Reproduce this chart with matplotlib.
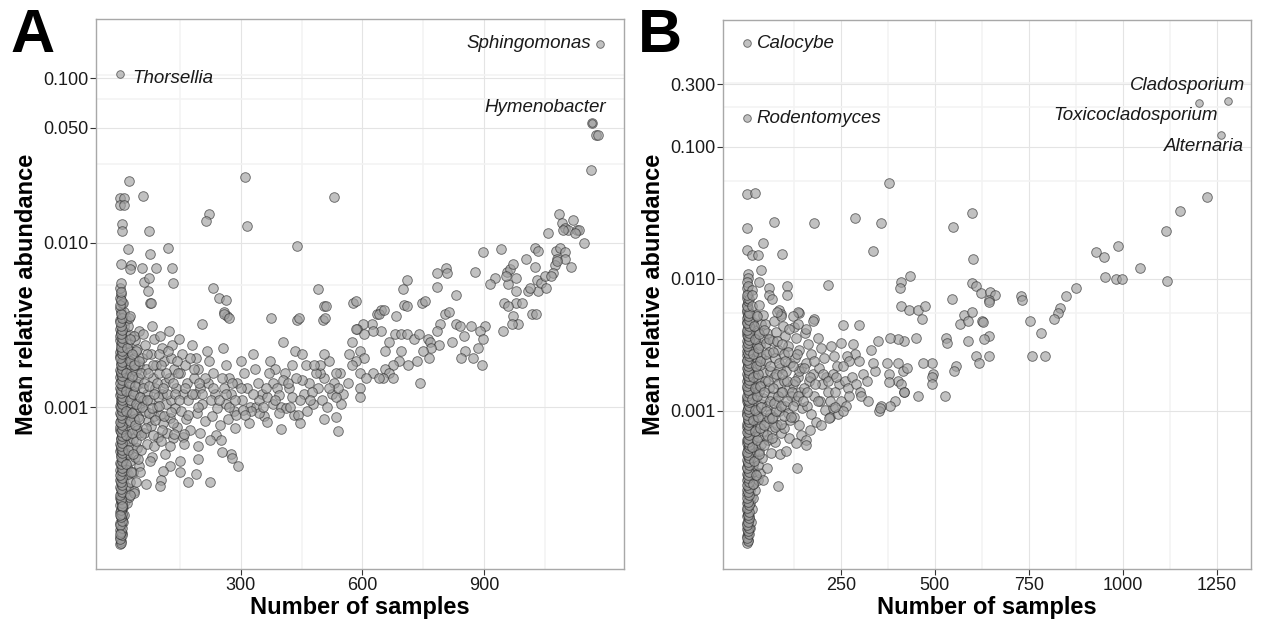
import numpy as np
import matplotlib
matplotlib.use('Agg')
import matplotlib.pyplot as plt
from matplotlib.ticker import FixedLocator, NullFormatter

plt.rcParams['font.family'] = ['Liberation Sans', 'DejaVu Sans']
plt.rcParams['axes.unicode_minus'] = False

# --------------------------
# Data: (number of samples, mean relative abundance) per taxon
# --------------------------
# Bacteria (panel A)
a_column = [(1,1.46e-4),(3,1.53e-4),(2,1.63e-4),(5,1.71e-4),(1,1.79e-4),(4,1.9e-4),(2,1.98e-4),(6,2.1e-4),
            (3,2.17e-4),(1,2.31e-4),(5,2.44e-4),(2,2.53e-4),(4,2.7e-4),(1,2.81e-4),(3,2.98e-4),(6,3.1e-4),
            (2,3.27e-4),(5,3.4e-4),(1,3.62e-4),(4,3.77e-4),(3,3.99e-4),(2,4.15e-4),(6,4.4e-4),(1,4.58e-4),
            (5,4.87e-4),(3,5.08e-4),(2,5.37e-4),(4,5.58e-4),(1,5.93e-4),(6,6.18e-4),(3,6.52e-4),(5,6.83e-4),
            (2,7.22e-4),(1,7.53e-4),(4,7.97e-4),(3,8.33e-4),(6,8.82e-4),(2,9.18e-4),(5,9.73e-4),(1,1.02e-3),
            (3,1.07e-3),(4,1.12e-3),(2,1.18e-3),(6,1.24e-3),(1,1.3e-3),(5,1.37e-3),(3,1.44e-3),(2,1.52e-3),
            (4,1.58e-3),(1,1.67e-3),(6,1.76e-3),(3,1.84e-3),(5,1.95e-3),(2,2.03e-3),(1,2.16e-3),(4,2.26e-3),
            (3,2.41e-3),(2,2.54e-3),(1,2.7e-3),(4,2.86e-3),(2,3.0e-3),(7,3.2e-3),(1,3.4e-3),(5,3.6e-3),
            (3,3.8e-3),(1,4.0e-3),(6,4.3e-3),(2,4.6e-3),(4,4.9e-3),(1,5.3e-3),(3,5.7e-3)]
a_column2 = [(9,2.0e-4),(12,2.2e-4),(8,2.45e-4),(14,2.7e-4),(10,3.0e-4),(13,3.3e-4),(9,3.6e-4),(15,3.95e-4),
             (11,4.3e-4),(8,4.7e-4),(14,5.1e-4),(10,5.5e-4),(13,6.0e-4),(9,6.5e-4),(16,7.0e-4),(11,7.6e-4),
             (8,8.2e-4),(14,8.9e-4),(10,9.6e-4),(12,1.04e-3),(9,1.12e-3),(15,1.2e-3),(11,1.3e-3),(8,1.4e-3),
             (13,1.5e-3),(10,1.62e-3),(16,1.75e-3),(12,1.9e-3),(9,2.05e-3),(14,2.2e-3),(11,2.4e-3),(8,2.6e-3),
             (13,2.85e-3),(10,3.1e-3),(15,3.4e-3),(12,3.8e-3),(9,4.3e-3),
             (19,2.6e-4),(24,2.85e-4),(20,3.2e-4),(27,3.5e-4),(22,3.9e-4),(18,4.3e-4),(26,4.7e-4),(21,5.2e-4),
             (29,5.7e-4),(23,6.2e-4),(19,6.8e-4),(27,7.4e-4),(22,8.1e-4),(25,8.9e-4),(20,9.7e-4),(28,1.06e-3),
             (23,1.16e-3),(18,1.27e-3),(26,1.39e-3),(21,1.52e-3),(29,1.66e-3),(24,1.82e-3),(19,2.0e-3),
             (27,2.2e-3),(22,2.45e-3),(25,2.75e-3),(20,3.1e-3),(23,3.5e-3),
             (36,3.1e-4),(42,3.5e-4),(33,4.0e-4),(47,4.4e-4),(38,5.0e-4),(44,5.6e-4),(34,6.4e-4),(49,7.0e-4),
             (40,7.8e-4),(46,8.7e-4),(35,9.5e-4),(43,1.05e-3),(50,1.15e-3),(37,1.25e-3),(45,1.38e-3),
             (32,1.5e-3),(41,1.65e-3),(48,1.8e-3),(36,2.0e-3),(44,2.25e-3),(39,2.55e-3),(47,2.9e-3)]
a_column3 = [(4,1.5e-4),(2,1.58e-4),(6,1.67e-4),(3,1.75e-4),(5,1.84e-4),(2,1.93e-4),(7,2.03e-4),(4,2.13e-4),
             (6,2.24e-4),(3,2.36e-4),(5,2.48e-4),(7,2.61e-4),(4,2.75e-4),(2,2.9e-4),(6,3.03e-4),(3,3.18e-4),
             (7,3.34e-4),(4,3.5e-4),(6,3.7e-4),(2,3.88e-4),(5,4.07e-4),(7,4.27e-4),(3,4.5e-4),(6,4.72e-4),
             (4,4.96e-4),(7,5.22e-4),(5,5.48e-4),(3,5.76e-4),(7,6.05e-4),(4,6.35e-4),(6,6.68e-4),(3,7.02e-4),
             (7,7.38e-4),(5,7.75e-4),(2,8.15e-4),(6,8.55e-4),(4,9.0e-4),(7,9.45e-4),(3,9.95e-4),(6,1.045e-3),
             (5,1.1e-3),(7,1.15e-3),(4,1.21e-3),(3,1.27e-3),(6,1.34e-3),(2,1.4e-3),(7,1.47e-3),(5,1.55e-3),
             (3,1.63e-3),(6,1.71e-3),(4,1.8e-3),(7,1.89e-3),(2,1.99e-3),(5,2.09e-3),(6,2.2e-3),(3,2.33e-3),
             (7,2.47e-3),(5,2.62e-3),(3,2.78e-3),(6,2.95e-3),(4,3.1e-3),(2,3.3e-3),(5,3.5e-3),(3,3.7e-3),
             (2,4.15e-3),(4,4.45e-3),(3,5.0e-3)]
a_cloud = [(35,0.0027),(42,0.0022),(38,0.0018),(45,0.0015),(33,0.0012),(48,0.0010),(36,0.00085),(44,0.00072),
           (40,0.00062),(52,0.00055),(58,0.0028),(62,0.0024),(55,0.0020),(66,0.0017),(60,0.0014),(68,0.0012),
           (57,0.0011),(64,0.00095),(70,0.00082),(61,0.0007),(67,0.0006),(80,0.0031),(85,0.0026),(78,0.0021),
           (90,0.0018),(83,0.0015),(88,0.0013),(76,0.0011),(92,0.001),(85,0.00088),(79,0.00077),(94,0.00066),
           (86,0.00058),(100,0.0027),(105,0.0023),(110,0.0019),(98,0.0016),(112,0.0014),(104,0.0012),
           (115,0.00105),(101,0.0009),(108,0.0008),(118,0.0007),(102,0.00062),(113,0.00052),(122,0.0029),
           (130,0.0024),(126,0.0020),(135,0.0017),(123,0.0015),(140,0.0013),(128,0.0011),(137,0.00098),
           (124,0.00086),(142,0.00076),(131,0.00065),(148,0.0026),(155,0.0021),(162,0.0018),(150,0.0016),
           (167,0.0014),(157,0.0012),(170,0.0011),(152,0.00095),(165,0.00084),(175,0.00073),(158,0.00066),
           (180,0.0024),(188,0.0020),(195,0.0017),(183,0.0015),(200,0.0013),(186,0.0012),(205,0.00105),
           (192,0.00092),(210,0.00082),(198,0.0007),(215,0.0022),(222,0.0019),(230,0.0016),(218,0.0014),
           (236,0.0012),(225,0.0011),(242,0.00098),(228,0.00088),(248,0.00078),(238,0.00068),(255,0.0023),
           (262,0.0018),(270,0.0015),(258,0.0013),(276,0.0012),(264,0.00105),(282,0.00095),(268,0.00085),
           (288,0.0009),(290,0.0014),(300,0.0019),(308,0.0016),(315,0.0013),(302,0.0011),(322,0.001),
           (335,0.0017),(342,0.0014),(352,0.0012),(338,0.001),(358,0.00088),(330,0.0021),(372,0.0019),
           (380,0.0014),(390,0.0013),(378,0.00105),(398,0.001),(410,0.0016),(418,0.0013),(425,0.00115),
           (412,0.00098),(432,0.0009),(460,0.0018),(468,0.0014),(455,0.0012),(478,0.00105),(462,0.00095),
           (490,0.0013),(500,0.0011),(512,0.001),(525,0.0012),(548,0.00105),(530,0.0014),(552,0.0012),
           (405,0.0025),(433,0.0022),(450,0.0021),(425,0.0018),(385,0.0017),(370,0.0016),(405,0.00146),
           (450,0.00146),(475,0.00124),(445,0.0011),(440,0.0009),(447,0.0008),(395,0.00118),(395,0.00092),
           (400,0.00074),(365,0.00081),(345,0.00092),(325,0.00094),(320,0.0008),(345,0.0011),(365,0.00115),
           (305,0.00096),(285,0.00075),(293,0.00044),(275,0.00052),(277,0.00049),(250,0.00063),(223,0.00063),
           (253,0.00053),(223,0.00035),(190,0.00039),(170,0.00035),(150,0.0004),(150,0.00047),(125,0.00044),
           (107,0.00041),(103,0.00036),(100,0.00033),(65,0.00034),(35,0.0003),(195,0.00058),(193,0.00048),
           (160,0.0006),(135,0.00069),(160,0.00069),(125,0.00058),(80,0.0005),(75,0.00047),(45,0.00048),
           (50,0.0004),(25,0.00029),(5,0.00025),(1,0.00022),(1,0.00017)]
a_cloud2 = [(16,0.00045),(28,0.0004),(22,0.00055),(34,0.00052),(17,0.00068),(30,0.0007),(25,0.00082),
            (38,0.00078),(15,0.00095),(31,0.00092),(26,0.0011),(40,0.00105),(17,0.00125),(33,0.0012),
            (24,0.0014),(39,0.00135),(16,0.0016),(30,0.00155),(25,0.0019),(37,0.0018),(19,0.0023),(32,0.0021),
            (27,0.0026),(52,0.00068),(48,0.00085),(56,0.001),(50,0.00115),(58,0.0013),(53,0.0016),(47,0.0019),
            (65,0.00075),(72,0.00092),(69,0.0011),(74,0.00135),(71,0.0016),(68,0.0021),(83,0.00068),
            (88,0.00083),(81,0.00098),(95,0.00115),(86,0.0012),(92,0.0014),(82,0.0018),(97,0.0021),
            (106,0.00072),(111,0.00088),(97,0.00102),(118,0.0012),(108,0.0013),(116,0.0016),(103,0.0018),
            (120,0.0022),(132,0.0008),(128,0.00093),(138,0.0012),(133,0.0014),(145,0.0016),(141,0.0019),
            (147,0.0011),(170,0.0009),(178,0.0012),(162,0.0013),(184,0.0017),(173,0.002),(193,0.001),
            (205,0.0012),(212,0.0015),(197,0.0014),(232,0.0013),(245,0.0011),(252,0.0015),(263,0.0012),
            (270,0.001),(278,0.0014),(285,0.0011),(300,0.0013),(310,0.0009),(330,0.0012),(355,0.001),
            (362,0.0013),(385,0.0011),(420,0.001),(470,0.0011),(415,0.0014),(435,0.0015)]
a_sparse = [(75,0.0043),(25,0.0036),(205,0.0032),(265,0.0036),(257,0.0038),(505,0.0041),(503,0.0034),
            (438,0.0034),(577,0.0043),(703,0.0042),(746,0.0043),(635,0.0037),(645,0.0039),(623,0.0032),
            (602,0.0032),(587,0.0030),(805,0.0037),(792,0.0032),(830,0.0032),(840,0.0031),(867,0.0031),
            (903,0.0031),(948,0.0029),(973,0.0036),(985,0.0032),(970,0.0032),(1018,0.0037),(890,0.0029),
            (898,0.0026),(885,0.0023),(873,0.0020),(895,0.0018),(851,0.0027),(853,0.0022),(843,0.0020),
            (822,0.0025),(783,0.0029),(763,0.0026),(767,0.0025),(790,0.0024),(769,0.0023),(749,0.0022),
            (765,0.0020),(735,0.0019),(713,0.0018),(742,0.0014),(680,0.0028),(695,0.0028),(710,0.0028),
            (727,0.0026),(740,0.0028),(665,0.0025),(655,0.0022),(695,0.0022),(690,0.0019),(675,0.0018),
            (655,0.0017),(665,0.0016),(675,0.0015),(650,0.0015),(645,0.0029),(625,0.0029),(605,0.0028),
            (585,0.0030),(575,0.0025),(595,0.0022),(605,0.0020),(585,0.0019),(567,0.0021),(575,0.0018),
            (595,0.0016),(625,0.0016),(640,0.0015),(610,0.0015),(595,0.0013),(565,0.0014),(545,0.0016),
            (595,0.00115),(535,0.00115),(540,0.0013),(517,0.0013),(505,0.0015),(535,0.0016),(495,0.0016),
            (485,0.0016),(495,0.0018),(517,0.0019),(505,0.0021),(480,0.0018),(505,0.00085),(535,0.00087),
            (540,0.00071),
            (24,0.0236),(1,0.0187),(12,0.0187),(1,0.0170),(12,0.0170),(58,0.0193),(310,0.0249),(529,0.0190),
            (221,0.0150),(214,0.0136),(316,0.0127),(5,0.0129),(7,0.0117),(73,0.0117),(20,0.0092),(121,0.0093),
            (76,0.0085),(439,0.0095),(3,0.0074),(28,0.0073),(26,0.0069),(56,0.0070),(89,0.0070),(129,0.0070),
            (60,0.0058),(74,0.0061),(132,0.0057),(71,0.0051),(78,0.0043),(231,0.0053),(245,0.0046),
            (264,0.0045),(259,0.0037),(271,0.0035),(374,0.0035),(491,0.0052),(511,0.0041),(585,0.0044),
            (444,0.0035),(508,0.0035),(641,0.0037),(653,0.0039),(684,0.0036),(701,0.0052),(710,0.0059),
            (710,0.0041),(754,0.0044),(784,0.0065),(806,0.0070),(810,0.0065),(784,0.0054),(832,0.0048),
            (814,0.0038),(879,0.0066),(897,0.0088),(943,0.0092),(927,0.0061),(915,0.0056),(958,0.0066),
            (965,0.0069),(973,0.0074),(960,0.0056),(980,0.0061),(955,0.0063),(980,0.0051),(950,0.0043),
            (980,0.0043),(993,0.0043),(960,0.0041),(1005,0.0080),(1025,0.0093),(1033,0.0089),(1025,0.0071),
            (1010,0.0051),(1033,0.0051),(1015,0.0053),(1030,0.0059),(1040,0.0057),(1050,0.0063),(1053,0.0053),
            (1028,0.0037),(1059,0.0114),(1086,0.0150),(1094,0.0132),(1101,0.0122),(1108,0.0120),(1119,0.0137),
            (1131,0.0120),(1136,0.0120),(1124,0.0114),(1096,0.0119),(1146,0.0100),(1079,0.0089),(1089,0.0093),
            (1101,0.0088),(1081,0.0080),(1101,0.0080),(1116,0.0071),(1076,0.0073),(1071,0.0065),(1066,0.0063),
            (1081,0.0077),(1168,0.0536),(1178,0.0452),(1181,0.0450),(1164,0.0277)]
a_named = ['Thorsellia', 'Sphingomonas', 'Hymenobacter']
a_named_x = [1, 1186, 1168]
a_named_y = [0.106, 0.161, 0.0536]

# Fungi (panel B)
b_column = [(1,1.0e-4),(3,1.06e-4),(2,1.13e-4),(4,1.18e-4),(1,1.27e-4),(3,1.32e-4),(2,1.42e-4),(5,1.49e-4),
            (1,1.6e-4),(3,1.67e-4),(2,1.79e-4),(4,1.88e-4),(1,2.01e-4),(3,2.11e-4),(5,2.26e-4),(2,2.37e-4),
            (1,2.53e-4),(4,2.66e-4),(3,2.84e-4),(1,2.99e-4),(5,3.19e-4),(2,3.36e-4),(4,3.58e-4),(1,3.77e-4),
            (3,4.01e-4),(2,4.23e-4),(5,4.51e-4),(1,4.75e-4),(4,5.06e-4),(3,5.34e-4),(2,5.68e-4),(1,5.99e-4),
            (5,6.37e-4),(3,6.73e-4),(4,7.15e-4),(2,7.56e-4),(1,8.02e-4),(3,8.48e-4),(5,9.02e-4),(2,9.48e-4),
            (1,1.0e-3),(4,1.06e-3),(3,1.12e-3),(2,1.19e-3),(1,1.26e-3),(5,1.33e-3),(3,1.41e-3),(1,1.5e-3),
            (4,1.59e-3),(2,1.68e-3),(3,1.78e-3),(1,1.89e-3),(5,2.0e-3),(2,2.12e-3),(4,2.25e-3),(1,2.38e-3),
            (3,2.52e-3),(2,2.67e-3),(1,2.83e-3),(4,3.0e-3),(3,3.18e-3),(1,3.37e-3),(5,3.57e-3),(2,3.78e-3),
            (1,4.0e-3),(3,4.24e-3),(4,4.5e-3),(1,4.76e-3),(2,5.05e-3),(3,5.35e-3),(1,5.67e-3),(4,6.0e-3),
            (2,6.4e-3),(1,5.8e-3)]
b_column2 = [(8,1.3e-4),(11,1.45e-4),(7,1.6e-4),(13,1.8e-4),(9,2.0e-4),(12,2.25e-4),(8,2.5e-4),(14,2.8e-4),
             (10,3.1e-4),(7,3.45e-4),(13,3.85e-4),(9,4.3e-4),(11,4.8e-4),(8,5.3e-4),(14,5.9e-4),(10,6.6e-4),
             (12,7.3e-4),(7,8.1e-4),(13,9.0e-4),(9,1.0e-3),(11,1.1e-3),(8,1.22e-3),(14,1.35e-3),(10,1.5e-3),
             (12,1.66e-3),(7,1.84e-3),(13,2.05e-3),(9,2.28e-3),(11,2.53e-3),(8,2.8e-3),(14,3.1e-3),(10,3.45e-3),
             (12,3.85e-3),(9,4.3e-3),(11,4.8e-3),(8,5.4e-3),
             (18,2.2e-4),(22,2.5e-4),(17,2.8e-4),(25,3.1e-4),(20,3.5e-4),(16,3.9e-4),(24,4.4e-4),(19,4.9e-4),
             (23,5.5e-4),(17,6.1e-4),(26,6.8e-4),(21,7.6e-4),(18,8.5e-4),(24,9.5e-4),(20,1.06e-3),(16,1.18e-3),
             (25,1.32e-3),(22,1.47e-3),(18,1.64e-3),(23,1.83e-3),(19,2.05e-3),(26,2.3e-3),(21,2.57e-3),
             (17,2.87e-3),(24,3.2e-3),(20,3.6e-3),(22,4.1e-3),(18,4.7e-3),(25,5.3e-3),
             (30,3.0e-4),(36,3.4e-4),(29,3.9e-4),(41,4.4e-4),(33,5.0e-4),(39,5.6e-4),(31,6.3e-4),(44,7.1e-4),
             (35,8.0e-4),(40,9.0e-4),(28,1.0e-3),(37,1.12e-3),(43,1.26e-3),(32,1.41e-3),(38,1.58e-3),
             (30,1.77e-3),(42,1.98e-3),(34,2.22e-3),(39,2.5e-3),(29,2.8e-3),(36,3.15e-3),(44,3.55e-3),
             (31,4.0e-3),(38,4.6e-3)]
b_column3 = [(4,1.03e-4),(2,1.09e-4),(5,1.16e-4),(3,1.23e-4),(6,1.3e-4),(2,1.37e-4),(4,1.45e-4),(6,1.54e-4),
             (3,1.64e-4),(5,1.73e-4),(2,1.84e-4),(6,1.95e-4),(4,2.06e-4),(2,2.18e-4),(6,2.32e-4),(3,2.45e-4),
             (5,2.6e-4),(2,2.75e-4),(6,2.92e-4),(4,3.09e-4),(3,3.27e-4),(6,3.47e-4),(2,3.67e-4),(5,3.89e-4),
             (4,4.12e-4),(6,4.37e-4),(3,4.63e-4),(2,4.9e-4),(6,5.2e-4),(5,5.5e-4),(3,5.83e-4),(4,6.18e-4),
             (6,6.55e-4),(2,6.94e-4),(5,7.35e-4),(3,7.79e-4),(6,8.25e-4),(4,8.75e-4),(2,9.25e-4),(6,9.8e-4),
             (3,1.03e-3),(5,1.09e-3),(6,1.16e-3),(4,1.22e-3),(2,1.3e-3),(6,1.37e-3),(4,1.45e-3),(2,1.54e-3),
             (6,1.63e-3),(5,1.73e-3),(3,1.84e-3),(6,1.94e-3),(4,2.06e-3),(3,2.18e-3),(6,2.31e-3),(2,2.45e-3),
             (5,2.6e-3),(3,2.75e-3),(6,2.92e-3),(2,3.09e-3),(4,3.28e-3),(6,3.47e-3),(3,3.68e-3),(5,3.9e-3),
             (2,4.12e-3),(6,4.37e-3),(2,4.63e-3),(5,4.9e-3),(3,5.2e-3),(6,5.5e-3),(2,6.2e-3),(4,6.8e-3),
             (1,7.2e-3),(3,7.8e-3),(1,8.5e-3),(5,7.0e-3)]
b_cloud = [(48,0.0046),(55,0.0039),(50,0.0033),(60,0.0028),(52,0.0024),(63,0.002),(49,0.0017),(58,0.0015),
           (66,0.0013),(54,0.0011),(62,0.00095),(50,0.00082),(67,0.0007),(57,0.0006),(64,0.00048),
           (72,0.0048),(78,0.004),(70,0.0034),(84,0.0029),(75,0.0025),(88,0.0021),(73,0.0018),(82,0.0016),
           (90,0.0014),(77,0.0012),(86,0.001),(71,0.0009),(80,0.00078),(92,0.00068),(76,0.00058),(88,0.00047),
           (96,0.0044),(103,0.0037),(110,0.0031),(98,0.0027),(115,0.0023),(105,0.002),(99,0.0017),(112,0.0015),
           (118,0.0013),(102,0.0011),(109,0.00097),(116,0.00085),(100,0.00074),(112,0.00062),(104,0.0005),
           (125,0.0043),(132,0.0036),(140,0.0029),(128,0.0025),(145,0.0021),(135,0.0018),(122,0.0016),
           (142,0.0014),(130,0.0012),(148,0.00105),(126,0.0009),(138,0.00078),(145,0.00066),(131,0.00057),
           (155,0.0039),(162,0.0032),(170,0.0027),(158,0.0023),(175,0.0019),(165,0.0017),(152,0.0015),
           (180,0.0013),(160,0.0011),(172,0.00095),(185,0.00083),(167,0.00072),(157,0.0006),
           (190,0.0036),(198,0.003),(205,0.0025),(192,0.0021),(210,0.0018),(200,0.0016),(215,0.0014),
           (195,0.0012),(208,0.00102),(220,0.0009),(198,0.00078),(225,0.0031),(232,0.0026),(240,0.0022),
           (228,0.0019),(245,0.0016),(235,0.0014),(250,0.0012),(230,0.00105),(242,0.00095),(260,0.0017),
           (270,0.0015),(265,0.0011),(280,0.0018),(290,0.0016),(310,0.0019),(320,0.0017),(340,0.002),
           (300,0.0014),(158,0.00055),(133,0.00037),(84,0.00027),(54,0.00037),(44,0.0003),
           (14,0.0062),(33,0.0063),(86,0.0058),(91,0.0054),(139,0.0055),(178,0.0050),(44,0.0053)]
b_cloud2 = [(16,0.00028),(26,0.00033),(20,0.00042),(32,0.00047),(15,0.00053),(27,0.0006),(21,0.0007),
            (35,0.00074),(17,0.00085),(29,0.0009),(23,0.00102),(37,0.00108),(15,0.00123),(28,0.0013),
            (21,0.0015),(34,0.00155),(18,0.0018),(30,0.0019),(24,0.0022),(36,0.0024),(16,0.0027),(29,0.003),
            (22,0.0035),(33,0.0038),(19,0.0044),(27,0.0052),(47,0.00055),(53,0.00066),(46,0.00078),
            (58,0.00088),(51,0.001),(61,0.0012),(47,0.0014),(56,0.0017),(62,0.0022),(50,0.0027),(58,0.0035),
            (45,0.0041),(68,0.00062),(74,0.00075),(66,0.00088),(79,0.001),(72,0.00115),(84,0.0013),
            (69,0.0015),(78,0.0019),(85,0.0023),(71,0.0028),(80,0.0034),(92,0.0008),(98,0.00092),(90,0.0011),
            (106,0.0012),(95,0.0014),(108,0.0017),(93,0.0019),(101,0.0024),(110,0.0028),(95,0.0032),
            (118,0.0009),(124,0.0011),(120,0.0014),(135,0.0013),(127,0.0017),(140,0.002),(122,0.0022),
            (134,0.0027),(150,0.0012),(160,0.0014),(168,0.0018),(152,0.0021),(182,0.0016),(190,0.0012),
            (202,0.0019),(215,0.0017),(222,0.0012),(180,0.0024),(238,0.0018)]
b_sparse = [(1,0.044),(22,0.045),(379,0.053),(599,0.0315),(289,0.0289),(73,0.0272),(179,0.0264),(358,0.0264),
            (1,0.0242),(549,0.0249),(44,0.0188),(335,0.0164),(1,0.0166),(15,0.0152),(30,0.0152),(93,0.0154),
            (602,0.0142),(38,0.0118),(3,0.011),(3,0.0101),(1,0.0095),(3,0.0089),(14,0.0083),(1,0.0076),
            (14,0.0076),(33,0.0095),(59,0.0086),(107,0.0088),(107,0.0075),(59,0.0076),(68,0.0070),(216,0.0090),
            (411,0.0095),(407,0.0086),(435,0.0106),(599,0.0094),(610,0.0089),(622,0.0078),(647,0.0080),
            (661,0.0076),(644,0.0069),(729,0.0074),(731,0.0069),(848,0.0074),(874,0.0086),(832,0.0060),
            (827,0.0055),(816,0.0050),(546,0.0070),(409,0.0062),(432,0.0058),(456,0.0058),(475,0.0062),
            (467,0.0050),(567,0.0046),(578,0.0053),(599,0.0056),(589,0.0048),(626,0.0048),(628,0.0047),
            (644,0.0067),(753,0.0048),(782,0.0039),(758,0.0026),(793,0.0026),(644,0.0037),(631,0.0035),
            (589,0.0034),(645,0.0026),(608,0.0026),(618,0.0023),(530,0.0036),(532,0.0033),(557,0.0022),
            (552,0.0020),(528,0.0013),(493,0.0023),(495,0.0019),(493,0.0018),(493,0.0016),(469,0.0023),
            (456,0.0013),(419,0.0014),(393,0.0012),(382,0.0011),(356,0.0011),(351,0.0010),(353,0.00105),
            (451,0.0036),(419,0.0034),(401,0.0035),(382,0.0036),(350,0.0034),(329,0.0029),(335,0.0023),
            (372,0.0023),(377,0.0019),(403,0.0023),(414,0.0020),(425,0.0021),(403,0.0017),(377,0.00165),
            (409,0.0016),(417,0.0014),(298,0.0045),(255,0.0045),(287,0.0027),(266,0.0026),(298,0.0024),
            (271,0.0024),(255,0.0022),(250,0.0033),(282,0.0032),(303,0.0013),(321,0.0012),(271,0.0013),
            (255,0.0010),(234,0.00108),(218,0.00088),(176,0.0048),(158,0.0042),(137,0.0056),(123,0.0052),
            (137,0.0046),(112,0.0042),(91,0.0052),(81,0.0056),
            (1224,0.042),(1152,0.0329),(1113,0.0232),(986,0.0179),(927,0.0159),(949,0.0148),(1044,0.0122),
            (951,0.0104),(980,0.0100),(996,0.0100),(1116,0.0097)]
b_named = ['Calocybe', 'Rodentomyces', 'Cladosporium', 'Toxicocladosporium', 'Alternaria']
b_named_x = [1, 1, 1280, 1203, 1261]
b_named_y = [0.61, 0.165, 0.224, 0.214, 0.123]

# --------------------------
# Style helpers
# --------------------------
point_kw = dict(s=48, facecolor='#a0a0a0', edgecolor='#2a2a2a', linewidths=0.65, alpha=0.65, zorder=3)
text_color = '#1a1a1a'


def draw_panel(ax, groups, names, nx, ny, offsets, xlim, ylim, xt, xminor, yt, ylab, yminor):
    for g in groups:
        x, y = np.array(g).T
        ax.scatter(x, y, **point_kw)
    ax.scatter(nx, ny, **dict(point_kw, s=30))
    for name, x, y, (dx, dy, ha) in zip(names, nx, ny, offsets):
        ax.annotate(name, xy=(x, y), xytext=(dx, dy), textcoords='offset points',
                    ha=ha, va='center', style='italic', fontsize=13.5, color=text_color)

    ax.set_yscale('log')
    ax.set_xlim(*xlim)
    ax.set_ylim(*ylim)
    ax.xaxis.set_major_locator(FixedLocator(xt))
    ax.xaxis.set_minor_locator(FixedLocator(xminor))
    ax.yaxis.set_major_locator(FixedLocator(yt))
    ax.yaxis.set_minor_locator(FixedLocator(yminor))
    ax.yaxis.set_minor_formatter(NullFormatter())
    ax.set_xticklabels([str(v) for v in xt])
    ax.set_yticklabels(ylab)

    ax.set_axisbelow(True)
    ax.grid(which='major', color='#e4e4e4', linewidth=0.8)
    ax.grid(which='minor', color='#f3f3f3', linewidth=1.2)
    for sp in ax.spines.values():
        sp.set_color('#a8a8a8')
        sp.set_linewidth(1.0)
    ax.tick_params(which='major', length=4, width=0.8, color='#333333', pad=1.5,
                   labelsize=13, labelcolor=text_color)
    ax.tick_params(which='minor', length=0)
    ax.set_xlabel('Number of samples', fontsize=17, fontweight='bold', labelpad=2)
    ax.set_ylabel('Mean relative abundance', fontsize=17, fontweight='bold', labelpad=4)


fig = plt.figure(figsize=(12.64, 6.30), dpi=100)
fig.patch.set_facecolor('white')

axA = fig.add_axes([96 / 1264, 1 - 569 / 630, 528 / 1264, 550 / 630])
draw_panel(axA, [a_column, a_column2, a_column3, a_cloud, a_cloud2, a_sparse],
           a_named, a_named_x, a_named_y,
           [(9, -3.5, 'left'), (-6.5, 0.5, 'right'), (9.5, 11, 'right')],
           (-58, 1246), (10 ** -3.985, 10 ** -0.640),
           [300, 600, 900], [150, 450, 750, 1050],
           [0.001, 0.01, 0.05, 0.1], ['0.001', '0.010', '0.050', '0.100'],
           [0.0055, 0.03, 0.075, 0.1045])

axB = fig.add_axes([723 / 1264, 1 - 569 / 630, 528 / 1264, 549 / 630])
draw_panel(axB, [b_column, b_column2, b_column3, b_cloud, b_cloud2, b_sparse],
           b_named, b_named_x, b_named_y,
           [(7, 0, 'left'), (7, 0, 'left'), (12, 11, 'right'), (13.5, -8.5, 'right'), (16, -8, 'right')],
           (-63, 1340), (10 ** -4.197, 10 ** -0.038),
           [250, 500, 750, 1000, 1250], [125, 375, 625, 875, 1125],
           [0.001, 0.01, 0.1, 0.3], ['0.001', '0.010', '0.100', '0.300'],
           [0.0055, 0.055, 0.2, 0.3045])

# Panel letters
fig.text(10 / 1264, 1 - 52 / 630, 'A', fontsize=44, fontweight='bold', va='baseline')
fig.text(638 / 1264, 1 - 52 / 630, 'B', fontsize=44, fontweight='bold', va='baseline')

fig.savefig('out.png', dpi=100, facecolor='white')
